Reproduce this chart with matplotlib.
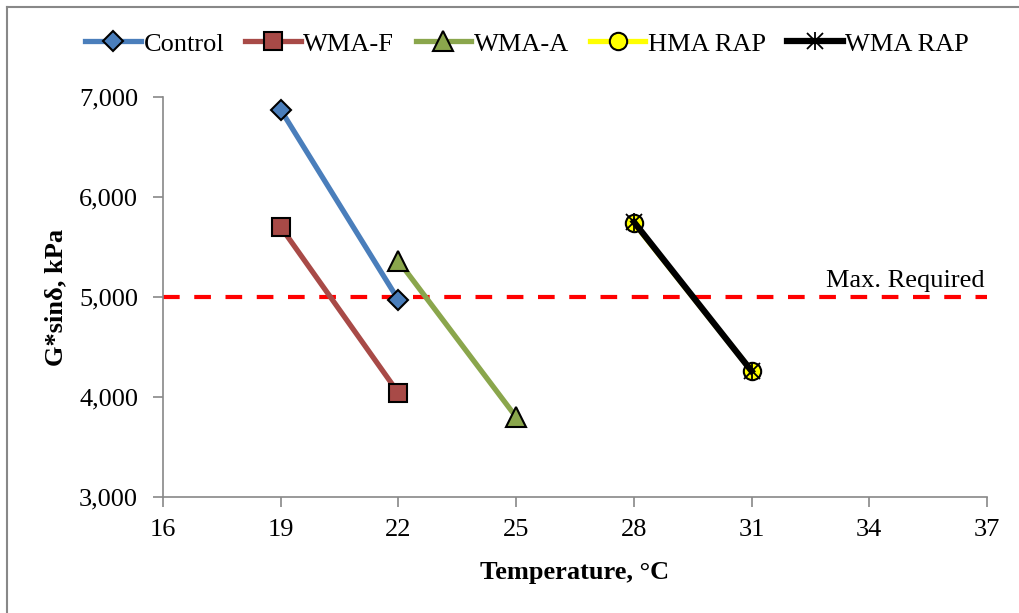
import numpy as np
import matplotlib.pyplot as plt
from matplotlib.lines import Line2D

# Data
control_t = [19, 22]
control_g = [6870, 4970]
wmaf_t = [19, 22]
wmaf_g = [5700, 4040]
wmaa_t = [22, 25]
wmaa_g = [5360, 3800]
hmarap_t = [28, 31]
hmarap_g = [5740, 4260]
wmarap_t = [28, 31]
wmarap_g = [5750, 4260]
max_required = 5000

x_ticks = [16, 19, 22, 25, 28, 31, 34, 37]
y_ticks = [3000, 4000, 5000, 6000, 7000]

plt.rcParams['font.family'] = ['Liberation Serif', 'DejaVu Serif']
fs = 19

fig = plt.figure(figsize=(10.19, 6.13), dpi=100)
ax = fig.add_axes([0.16, 0.189, 0.8086, 0.653])

# Series
h1, = ax.plot(control_t, control_g, color='#4a7ebb', lw=3.8, marker='D', ms=10,
              mfc='#4a7ebb', mec='black', mew=1.5, label='Control', zorder=3)
h2, = ax.plot(wmaf_t, wmaf_g, color='#a84a47', lw=3.8, marker='s', ms=12.5,
              mfc='#a84a47', mec='black', mew=1.5, label='WMA-F', zorder=3)
h3, = ax.plot(wmaa_t, wmaa_g, color='#8aa64c', lw=3.8, marker='^', ms=14,
              mfc='#8aa64c', mec='black', mew=1.5, label='WMA-A', zorder=3)
h4, = ax.plot(hmarap_t, hmarap_g, color='#ffff00', lw=3.8, marker='o', ms=12.5,
              mfc='#ffff00', mec='black', mew=1.5, label='HMA RAP', zorder=3)
h5, = ax.plot(wmarap_t, wmarap_g, color='black', lw=4.5, marker='x', ms=11,
              mec='black', mew=1.3, label='WMA RAP', zorder=4)
# vertical stroke of the Excel-style star marker
h5b, = ax.plot(wmarap_t, wmarap_g, ls='none', marker='|', ms=13,
               mec='black', mew=1.3, zorder=4)

# Max required line
ax.axhline(max_required, color='#ff0000', lw=3, ls=(0, (4, 3.5)), zorder=2)
ax.text(36.95, max_required + 50, 'Max. Required', ha='right', va='bottom', fontsize=fs)

ax.set_xlim(16, 37)
ax.set_ylim(3000, 7000)
ax.set_xticks(x_ticks)
ax.set_yticks(y_ticks)
ax.set_yticklabels([f'{v:,}' for v in y_ticks])
ax.tick_params(labelsize=fs, color='#888888', length=7, width=1.2, direction='out')
ax.tick_params(axis='x', pad=9)
ax.tick_params(axis='y', pad=11)

for side in ['top', 'right']:
    ax.spines[side].set_visible(False)
for side in ['left', 'bottom']:
    ax.spines[side].set_color('#888888')
    ax.spines[side].set_linewidth(1.2)

ax.set_xlabel('Temperature, °C', fontsize=fs, fontweight='bold', labelpad=14)
ax.set_ylabel('G*sinδ, kPa', fontsize=fs, fontweight='bold', labelpad=8)

ax.legend([h1, h2, h3, h4, (h5, h5b)],
          ['Control', 'WMA-F', 'WMA-A', 'HMA RAP', 'WMA RAP'],
          loc='center', bbox_to_anchor=(0.442, 1.1325), ncol=5, frameon=False,
          fontsize=fs, handlelength=2.1, columnspacing=0.8, handletextpad=0.1,
          borderaxespad=0)

# Outer chart border (left and top edges visible in the crop)
fig.add_artist(Line2D([0.007, 0.007], [0.0, 0.989], transform=fig.transFigure,
                      color='#888888', lw=1.5))
fig.add_artist(Line2D([0.007, 1.0], [0.989, 0.989], transform=fig.transFigure,
                      color='#888888', lw=1.5))

fig.savefig('out.png', dpi=100)
